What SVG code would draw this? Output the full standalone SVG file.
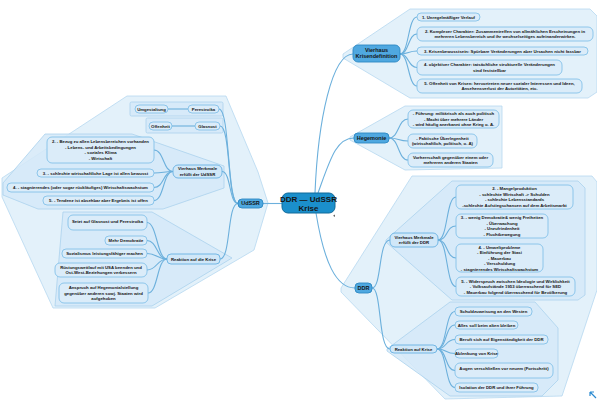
<svg xmlns="http://www.w3.org/2000/svg" width="597" height="400" viewBox="0 0 597 400">
<style>
text{font-family:"Liberation Sans",Arial,sans-serif;font-weight:bold;fill:#151515;text-anchor:middle}
.t{font-size:4.3px}
.m{font-size:5.5px}
.c{font-size:8px}
.reg{fill:#e0effa;stroke:#b6d8f0;stroke-width:0.8;fill-opacity:0.9}
.reg2{fill:#d5e9f8;stroke:#abd2ee;stroke-width:0.8;fill-opacity:0.85}
.leaf{fill:#dbecf9;stroke:#78bce7;stroke-width:0.8}
.sub{fill:#d0e7f8;stroke:#68b1e2;stroke-width:0.9}
.main{fill:#4fa8e0;stroke:#2c88c3;stroke-width:0.9}
.cen{fill:#1b8fcb;stroke:#116a9a;stroke-width:1}
.con path,.con line{fill:none;stroke:#6cb0dc;stroke-width:1.1}
</style>

<g id="regions">
<polygon class="reg" points="127,96 226,96 258,172 268,203 254,250 155,308 53,308 2,197 2,178"/>
<polygon class="reg2" points="3,183 45,134 132,134 224,166 224,188 163,209 38,209 3,195"/>
<polygon class="reg2" points="63,212 152,212 232,258 152,306 55,306"/>
<rect class="reg2" x="130" y="102" width="93" height="14" rx="1.5"/>
<rect class="reg2" x="146" y="118" width="77" height="15" rx="1.5"/>
<polygon class="reg" points="343,54 410,9 590,9 597,16 597,92 588,98 410,98 343,58"/>
<polygon class="reg" points="350,137 405,106 502,106 502,168 405,170 350,140"/>
<polygon class="reg" points="341,288 412,176 592,176 597,182 597,290 562,396 445,399 341,292"/>
<polygon class="reg2" points="386,240 452,181 578,181 585,188 585,295 578,300 452,300 386,242"/>
<polygon class="reg2" points="387,349 450,302 535,302 558,328 558,380 542,396 450,396 387,351"/>
</g>

<g id="connectors" class="con">
<path d="M315,193 C318,120 332,54 353,54"/>
<path d="M318,193 C330,160 336,138 354,138"/>
<path d="M316,213 C324,262 336,288 355,288"/>
<line x1="282" y1="203.5" x2="263" y2="203.5"/>
<path d="M400,54 C409,54 408,17 417,17"/>
<path d="M400,54 C409,54 408,34 417,34"/>
<path d="M400,54 C409,54 408,51 417,51"/>
<path d="M400,54 C409,54 408,67.5 417,67.5"/>
<path d="M400,54 C409,54 408,86 417,86"/>
<path d="M389,138 C399,138 398,119 408,119"/>
<path d="M389,138 C399,138 398,141 408,141"/>
<path d="M389,138 C399,138 398,160 408,160"/>
<path d="M372,288 C382,288 378,240 390,240"/>
<path d="M372,288 C382,288 378,349 390,349"/>
<path d="M438,240 C448,240 446,197 456,197"/>
<path d="M438,240 C448,240 446,226 456,226"/>
<path d="M438,240 C448,240 446,258 456,258"/>
<path d="M438,240 C448,240 446,286.5 456,286.5"/>
<path d="M437,349 C447,349 445,311.5 455,311.5"/>
<path d="M437,349 C447,349 445,325 455,325"/>
<path d="M437,349 C447,349 445,339.5 455,339.5"/>
<path d="M437,349 C447,349 445,353.5 455,353.5"/>
<path d="M437,349 C447,349 445,370.5 455,370.5"/>
<path d="M437,349 C447,349 445,387.5 455,387.5"/>
<path d="M238,203.5 C227,203.5 230,109 219,109"/>
<path d="M238,203.5 C227,203.5 231,126 220,126"/>
<path d="M238,203.5 C229,203.5 231,171.5 222,171.5"/>
<path d="M238,203.5 C227,203.5 231,259 220,259"/>
<line x1="188" y1="109" x2="168" y2="109"/>
<line x1="195" y1="126" x2="172" y2="126"/>
<path d="M173,171.5 C163,171.5 164,150 154,150"/>
<path d="M173,171.5 C163,171.5 164,173 154,173"/>
<path d="M173,171.5 C163,171.5 164,187.5 154,187.5"/>
<path d="M173,171.5 C163,171.5 164,200.5 154,200.5"/>
<path d="M167,259 C157,259 157,222.5 147,222.5"/>
<path d="M167,259 C157,259 157,240.5 147,240.5"/>
<path d="M167,259 C157,259 157,253.5 147,253.5"/>
<path d="M167,259 C157,259 157,270 147,270"/>
<path d="M167,259 C157,259 158,293 148,293"/>
</g>

<g id="center">
<rect class="cen" x="282" y="193" width="53" height="20" rx="6"/>
<text class="c" x="308.5" y="202.3">DDR — UdSSR</text>
<text class="c" x="308.5" y="210.5">Krise</text>
<path d="M335,214.5 l-2,1.2 l2,1.2 z" fill="#666"/>
</g>

<g id="vkd">
<rect class="main" x="353" y="45" width="47" height="17" rx="5"/>
<text class="m" x="376.5" y="51.8">Vierhaus</text>
<text class="m" x="376.5" y="58">Krisendefinition</text>
</g>
<g id="vkd1"><rect class="leaf" x="417" y="13" width="63" height="8" rx="4"/><text class="t" x="448.5" y="18.6">1. Unregelmäßiger Verlauf</text></g>
<g id="vkd2"><rect class="leaf" x="417" y="27" width="176" height="14" rx="5"/><text class="t" x="505" y="32.8">2. Komplexer Charakter: Zusammentreffen von allmählichen Erscheinungen in</text><text class="t" x="505" y="38.3">mehreren Lebensbereich und ihr wechselseitiges aufeinanderwirken.</text></g>
<g id="vkd3"><rect class="leaf" x="417" y="47" width="171" height="8" rx="4"/><text class="t" x="502.5" y="52.6">3. Krisenbewusstsein: Spürbare Veränderungen aber Ursachen nicht fassbar</text></g>
<g id="vkd4"><rect class="leaf" x="417" y="60" width="145" height="15" rx="5"/><text class="t" x="489.5" y="66.3">4. objektiver Charakter: tatsächliche strukturelle Veränderungen</text><text class="t" x="489.5" y="71.8">sind feststellbar</text></g>
<g id="vkd5"><rect class="leaf" x="417" y="79" width="165" height="14" rx="5"/><text class="t" x="499.5" y="84.8">5. Offenheit von Krisen: hervortreten neuer sozialer Interessen und Ideen,</text><text class="t" x="499.5" y="90.3">Ansehensverlust der Autoritäten, etc.</text></g>

<g id="heg">
<rect class="main" x="354" y="133" width="35" height="10" rx="4"/>
<text class="m" x="371.5" y="139.9">Hegemonie</text>
</g>
<g id="heg1"><rect class="leaf" x="408" y="110" width="91" height="18" rx="5"/><text class="t" x="453.5" y="115.1">- Führung: militärisch als auch politisch</text><text class="t" x="453.5" y="120.6">- Macht über mehrere Länder</text><text class="t" x="453.5" y="126.1">- wird häufig anerkannt ohne Krieg o. Ä.</text></g>
<g id="heg2"><rect class="leaf" x="408" y="134" width="69" height="14" rx="5"/><text class="t" x="442.5" y="139.8">- Faktische Überlegenheit</text><text class="t" x="442.5" y="145.3">(wirtschaftlich, politisch, o. Ä)</text></g>
<g id="heg3"><rect class="leaf" x="408" y="153" width="85" height="14" rx="5"/><text class="t" x="450.5" y="158.8">Vorherrschaft gegenüber einem oder</text><text class="t" x="450.5" y="164.3">mehreren anderen Staaten</text></g>

<g id="ddr">
<rect class="main" x="355" y="283" width="17" height="10" rx="4"/>
<text class="m" x="363.5" y="289.9">DDR</text>
</g>
<g id="ddrv"><rect class="sub" x="390" y="233" width="48" height="14" rx="5"/><text class="t" x="414" y="238.8">Vierhaus Merkmale</text><text class="t" x="414" y="244.3">erfüllt der DDR</text></g>
<g id="ddrv2"><rect class="leaf" x="456" y="185" width="117" height="24" rx="5"/><text class="t" x="514.5" y="190.4">2. - Mangelproduktion</text><text class="t" x="514.5" y="195.9">- schlechte Wirtschaft -&gt; Schulden</text><text class="t" x="514.5" y="201.4">- schlechte Lebensstandards</text><text class="t" x="514.5" y="206.9">-schlechte Aufstiegschancen auf dem Arbeitsmarkt</text></g>
<g id="ddrv3"><rect class="leaf" x="456" y="214" width="92" height="24" rx="5"/><text class="t" x="502" y="219.4">3. - wenig Demokratie&amp; wenig Freiheiten</text><text class="t" x="502" y="224.9">- Überwachung</text><text class="t" x="502" y="230.4">- Unzufriedenheit</text><text class="t" x="502" y="235.9">- Fluchtbewegung</text></g>
<g id="ddrv4"><rect class="leaf" x="456" y="244" width="87" height="28" rx="5"/><text class="t" x="499.5" y="248.6">4. - Umweltprobleme</text><text class="t" x="499.5" y="254.1">- Einführung der Stasi</text><text class="t" x="499.5" y="259.6">- Mauerbau</text><text class="t" x="499.5" y="265.1">- Verschuldung</text><text class="t" x="499.5" y="270.6">- stagnierendes Wirtschaftswachstum</text></g>
<g id="ddrv5"><rect class="leaf" x="456" y="277" width="119" height="19" rx="5"/><text class="t" x="515.5" y="282.6">5. - Widerspruch zwischen Ideologie und Wirklichkeit</text><text class="t" x="515.5" y="288.1">- Volksaufstände 1953 überraschend für SED</text><text class="t" x="515.5" y="293.6">- Mauerbau folgend überraschend für Bevölkerung</text></g>
<g id="ddrr"><rect class="sub" x="390" y="345" width="47" height="8" rx="4"/><text class="t" x="413.5" y="350.6">Reaktion auf Krise</text></g>
<g id="ddrr1"><rect class="leaf" x="455" y="307" width="77" height="9" rx="4"/><text class="t" x="493.5" y="313.1">Schuldzuweisung an den Westen</text></g>
<g id="ddrr2"><rect class="leaf" x="455" y="321" width="63" height="8" rx="4"/><text class="t" x="486.5" y="326.6">Alles soll beim alten bleiben</text></g>
<g id="ddrr3"><rect class="leaf" x="455" y="335" width="93" height="9" rx="4"/><text class="t" x="501.5" y="341.1">Beruft sich auf Eigenständigkeit der DDR</text></g>
<g id="ddrr4"><rect class="leaf" x="455" y="349" width="43" height="9" rx="4"/><text class="t" x="476.5" y="355.1">Ablenkung von Krise</text></g>
<g id="ddrr5"><rect class="leaf" x="455" y="363" width="98" height="15" rx="5"/><text class="t" x="504" y="370">Augen verschließen vor neuem (Fortschritt)</text></g>
<g id="ddrr6"><rect class="leaf" x="455" y="383" width="83" height="9" rx="4"/><text class="t" x="496.5" y="389.1">Isolation der DDR und ihrer Führung</text></g>

<g id="udssr">
<rect class="main" x="238" y="199" width="25" height="9" rx="4"/>
<text class="m" x="250.5" y="205.4">UdSSR</text>
</g>
<g id="pere"><rect class="leaf" x="188" y="105" width="31" height="8" rx="4"/><text class="t" x="203.5" y="110.6">Perestroika</text></g>
<g id="umge"><rect class="leaf" x="135" y="105" width="33" height="8" rx="4"/><text class="t" x="151.5" y="110.6">Umgestaltung</text></g>
<g id="glas"><rect class="leaf" x="195" y="122" width="25" height="8" rx="4"/><text class="t" x="207.5" y="127.6">Glasnost</text></g>
<g id="offe"><rect class="leaf" x="149" y="122" width="23" height="8" rx="4"/><text class="t" x="160.5" y="127.6">Offenheit</text></g>
<g id="uv"><rect class="sub" x="173" y="165" width="49" height="13" rx="5"/><text class="t" x="197.5" y="170.3">Vierhaus Merkmale</text><text class="t" x="197.5" y="175.8">erfüllt der UdSSR</text></g>
<g id="uv2"><rect class="leaf" x="47" y="137" width="107" height="26" rx="5"/><text class="t" x="100.5" y="143.4">2. - Bezug zu allen Lebensbereichen vorhanden</text><text class="t" x="100.5" y="148.9">- Lebens- und Arbeitsbedingungen</text><text class="t" x="100.5" y="154.4">- soziales Klima</text><text class="t" x="100.5" y="159.9">- Wirtschaft</text></g>
<g id="uv3"><rect class="leaf" x="37" y="169" width="117" height="8" rx="4"/><text class="t" x="95.5" y="174.6">3. - schlechte wirtschaftliche Lage ist allen bewusst</text></g>
<g id="uv4"><rect class="leaf" x="7" y="183" width="147" height="9" rx="4"/><text class="t" x="80.5" y="189.1">4. - stagnierendes (oder sogar rückläufiges) Wirtschaftswachstum</text></g>
<g id="uv5"><rect class="leaf" x="43" y="196" width="111" height="9" rx="4"/><text class="t" x="98.5" y="202.1">5. - Tendenz ist absehbar aber Ergebnis ist offen</text></g>
<g id="ur"><rect class="sub" x="167" y="254" width="53" height="10" rx="4"/><text class="t" x="193.5" y="260.6">Reaktion auf die Krise</text></g>
<g id="ur1"><rect class="leaf" x="68" y="215" width="79" height="15" rx="5"/><text class="t" x="107.5" y="222.8">Setzt auf Glasnost und Perestroika</text></g>
<g id="ur2"><rect class="leaf" x="105" y="236" width="42" height="9" rx="4"/><text class="t" x="126" y="242.1">Mehr Demokratie</text></g>
<g id="ur3"><rect class="leaf" x="62" y="249" width="85" height="9" rx="4"/><text class="t" x="104.5" y="255.1">Sozialismus leistungsfähiger machen</text></g>
<g id="ur4"><rect class="leaf" x="55" y="263" width="92" height="14" rx="5"/><text class="t" x="101" y="268.8">Rüstungswettlauf mit USA beenden und</text><text class="t" x="101" y="274.3">Ost-West-Beziehungen verbessern</text></g>
<g id="ur5"><rect class="leaf" x="59" y="283" width="89" height="20" rx="5"/><text class="t" x="103.5" y="289.1">Anspruch auf Hegemonialstellung</text><text class="t" x="103.5" y="294.6">gegenüber anderen sowj. Staaten wird</text><text class="t" x="103.5" y="300.1">aufgehoben</text></g>

<g id="corner-icon">
<path d="M596,398 L590,392 M590,392 l0,4 M590,392 l4,0" fill="none" stroke="#2a8ad0" stroke-width="1.2"/>
</g>
</svg>
